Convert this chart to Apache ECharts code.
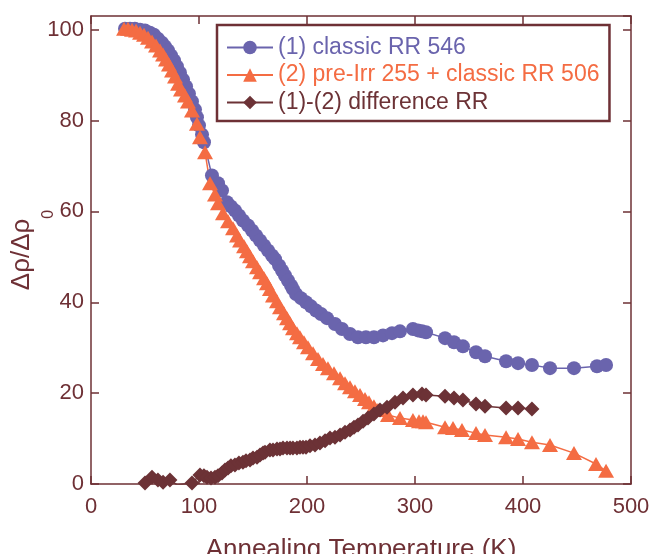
<!DOCTYPE html>
<html>
<head>
<meta charset="utf-8">
<style>
html,body{margin:0;padding:0;background:#fff;}
#main{width:654px;height:554px;}
</style>
<script src="https://cdn.jsdelivr.net/npm/echarts@6/dist/echarts.min.js"></script>
</head>
<body>
<div id="main"></div>
<script>
// (1) classic RR 546
var tempClassic = [31.5,36.1,40.7,45.4,50,54.6,58.3,62,65.7,68.5,71.3,74.1,76.9,79.6,82.4,85.2,88,90.7,93.5,96.3,98.1,100,102.8,104.6,
  112,117.6,121.3,125.9,129.6,133.3,137,140.7,145.4,149.1,152.8,156.5,160.2,163.9,167.6,170.4,174.1,176.9,179.6,182.4,185.2,187,189.8,
  194.4,199.1,203.7,208.3,213,218.5,225.9,232.4,239.8,247.2,254.6,262,270.4,278.7,286.1,298.1,302.8,306.5,310.2,
  327.8,336.1,344.4,356.5,364.8,384.3,395.4,408.3,425,447.2,468.5,476.9];
var valClassic = [100.2,100.2,100.2,100,99.8,99.3,98.9,98,97.1,96.3,95.4,94.3,93.2,91.9,90.5,89,87.5,85.9,84.2,82.4,80.7,78.9,76.9,75.2,
  67.9,66.2,64.6,62,61.1,60.2,59.1,58,56.9,55.8,54.7,53.6,52.5,51.4,50.3,49.5,48.1,47,45.9,44.8,43.7,42.9,41.8,
  40.9,40,39.1,38.2,37.4,36.5,35.2,34.1,33,32.3,32.3,32.3,32.7,33.2,33.6,34.1,33.8,33.6,33.4,
  32.1,31.2,30.3,29,28.1,27,26.6,26.2,25.5,25.5,25.9,26.2];

// (2) pre-Irr 255 + classic RR 506
var tempPreIrr = [30.6,34.3,38,41.7,45.4,49.1,52.8,56.5,60.2,63.9,66.7,69.4,72.2,75,77.8,80.6,83.3,87,89.8,93.5,98.1,100.9,105.6,
  110.2,114.8,117.6,122.2,126.9,131.5,135.2,138,141.7,144.4,147.2,150,153.7,156.5,160.2,162.9,165.7,168.5,172.2,175,178.7,181.5,
  184.3,187,190.7,193.5,197.2,200.9,205.6,210.2,214.8,219.4,225,230.6,235.2,239.8,244.4,249.1,253.7,257.4,262,265.7,275,286.1,
  298.1,303.7,307.4,310.2,327.8,335.2,343.5,356.5,364.8,384.3,395.4,408.3,425,447.2,467.6,476.9];
var valPreIrr = [100.2,100.2,100,99.8,99.3,98.9,98.2,97.4,96.5,95.4,94.5,93.4,92.3,91,89.7,88.1,86.8,85.5,84.2,82.2,79.3,76.3,73,
  66.2,63.7,61.8,59.6,57.8,56.3,54.7,53.6,52.3,51.2,50.1,49,47.7,46.6,45.3,44.2,42.9,41.5,40.2,38.9,37.6,36.5,
  35.4,34.3,33.2,32.3,31.2,30.1,28.8,27.5,26.4,25.5,24.4,23.3,22.2,21.3,20.4,19.6,18.7,18,17.1,16.3,15.2,14.5,
  14.1,13.8,13.8,13.6,12.5,12.3,11.9,11.2,10.8,10.3,9.9,9.2,8.6,6.8,4.4,2.9];

// (1)-(2) difference RR
var tempDiff = [50,56.5,62,66.7,73.1,79.6,93.5,100.9,104.6,107.4,111.1,114.8,117.6,121.3,124.1,126.9,129.6,133.3,137,140.7,143.5,147.2,
  150,153.7,156.5,159.3,161.1,165.7,168.5,172.2,175,177.8,181.5,184.3,187,190.7,193.5,196.3,199.1,202.8,207.4,212,216.7,221.3,225.9,
  230.6,235.2,239.8,243.5,247.2,251.9,256.5,262,267.6,274.1,281.5,288.9,298.1,306.5,310.2,327.8,336.1,344.4,356.5,364.8,384.3,395.4,408.3];
var valDiff = [0.2,1.5,0.9,0.4,0.9,-0.2,0.2,2,1.8,1.5,1.3,1.5,1.8,2.4,3.1,3.5,4,4.2,4.6,4.8,5.1,5.3,
  5.7,5.9,6.4,6.8,7,7.5,7.5,7.7,7.7,7.9,7.9,7.9,7.9,7.9,8.1,8.1,8.1,8.4,8.6,9,9.5,10.1,10.3,
  10.8,11.4,11.9,12.5,13,13.8,14.5,15.4,16.3,16.9,18,18.9,19.6,19.8,19.6,19.3,18.9,18.5,17.6,17.1,16.7,16.7,16.5];

var xTicks = [0, 100, 200, 300, 400, 500];
var yTicks = [0, 20, 40, 60, 80, 100];

var axisColor = '#6e3035';
var font = 'Liberation Sans, Arial, sans-serif';

function zip(a, b) {
  var out = [];
  for (var i = 0; i < a.length; i++) out.push([a[i], b[i]]);
  return out;
}

var chart = echarts.init(document.getElementById('main'));

var baseX = {
  type: 'value', min: xTicks[0], max: xTicks[xTicks.length - 1], interval: 100,
  axisLine: {show: true, onZero: false, lineStyle: {color: axisColor, width: 1.5}},
  axisTick: {show: true, inside: true, length: 8, lineStyle: {color: axisColor, width: 1.5}},
  splitLine: {show: false}
};
var baseY = {
  type: 'value', min: yTicks[0], max: 103, interval: 20,
  axisLine: {show: true, onZero: false, lineStyle: {color: axisColor, width: 1.5}},
  axisTick: {show: true, inside: true, length: 8, lineStyle: {color: axisColor, width: 1.5}},
  splitLine: {show: false}
};

var option = {
  backgroundColor: '#fff',
  animation: false,
  grid: {left: 91, right: 23, top: 16, bottom: 70, containLabel: false, outerBoundsMode: 'none'},
  xAxis: [
    Object.assign({}, baseX, {
      position: 'bottom',
      name: 'Annealing Temperature (K)',
      nameLocation: 'middle',
      nameGap: 53,
      nameMoveOverlap: false,
      nameTextStyle: {color: axisColor, fontSize: 26, fontFamily: font},
      axisLabel: {color: axisColor, fontSize: 22, fontFamily: font, margin: 12}
    }),
    Object.assign({}, baseX, {position: 'top', axisLabel: {show: false}})
  ],
  yAxis: [
    Object.assign({}, baseY, {
      position: 'left',
      name: '{a|Δρ/Δρ}{b|0}',
      nameLocation: 'middle',
      nameGap: 56,
      nameMoveOverlap: false,
      nameTextStyle: {
        color: axisColor, fontFamily: font,
        rich: {
          a: {fontSize: 26, color: axisColor, fontFamily: font},
          b: {fontSize: 16, color: axisColor, fontFamily: font, verticalAlign: 'bottom', padding: [0, 0, -22, 0]}
        }
      },
      axisLabel: {color: axisColor, fontSize: 22, fontFamily: font, margin: 7, showMaxLabel: false}
    }),
    Object.assign({}, baseY, {position: 'right', axisLabel: {show: false}})
  ],
  legend: {
    orient: 'vertical',
    left: 217, top: 25,
    width: 380,
    padding: [10, 10, 6, 9],
    borderColor: axisColor,
    borderWidth: 2.5,
    backgroundColor: '#fff',
    itemWidth: 46,
    itemHeight: 17,
    itemGap: 2.5,
    textStyle: {fontSize: 23, fontFamily: font, lineHeight: 25},
    data: [
      {name: '(1) classic RR 546', textStyle: {color: '#6a64ad'}},
      {name: '(2) pre-Irr 255 + classic RR 506', textStyle: {color: '#f46c43'}},
      {name: '(1)-(2) difference RR', textStyle: {color: '#6c3236'}}
    ]
  },
  series: [
    {
      name: '(1) classic RR 546', type: 'line',
      data: zip(tempClassic, valClassic),
      symbol: 'circle', symbolSize: 14,
      itemStyle: {color: '#6a64ad'},
      lineStyle: {color: '#6a64ad', width: 1.5}
    },
    {
      name: '(2) pre-Irr 255 + classic RR 506', type: 'line',
      data: zip(tempPreIrr, valPreIrr),
      symbol: 'triangle', symbolSize: [16, 14],
      itemStyle: {color: '#f46c43'},
      lineStyle: {color: '#f46c43', width: 1.5}
    },
    {
      name: '(1)-(2) difference RR', type: 'line',
      data: zip(tempDiff, valDiff),
      symbol: 'diamond', symbolSize: [15, 15],
      itemStyle: {color: '#6c3236'},
      lineStyle: {color: '#6c3236', width: 1.5}
    }
  ]
};

chart.setOption(option);
</script>
</body>
</html>
